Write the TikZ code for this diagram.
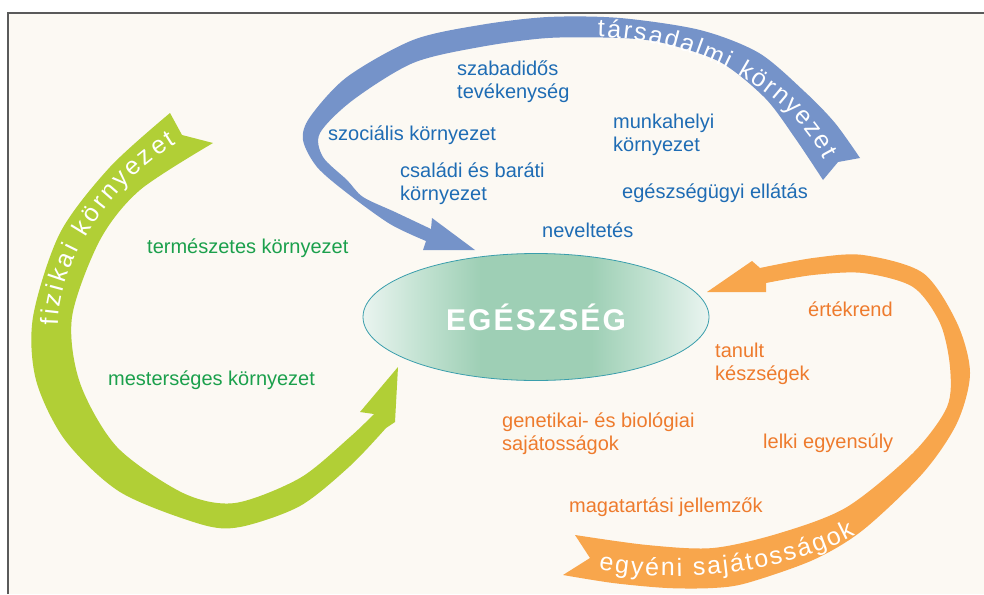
\documentclass[tikz,border=0pt]{standalone}
\usepackage{fontspec}
\setmainfont{Liberation Sans}
\newfontfamily\spacedfont[LetterSpace=7]{Liberation Sans}
\usetikzlibrary{shapes.geometric,decorations.text}
\definecolor{bgcream}{RGB}{252,249,243}
\definecolor{framegray}{RGB}{90,90,90}
\definecolor{socband}{RGB}{117,147,201}
\definecolor{soctext}{RGB}{30,108,180}
\definecolor{phyband}{RGB}{177,207,54}
\definecolor{phytext}{RGB}{27,160,76}
\definecolor{indband}{RGB}{248,166,76}
\definecolor{indtext}{RGB}{238,123,45}
\definecolor{healthin}{RGB}{158,207,181}
\definecolor{healthmid}{RGB}{196,227,211}
\definecolor{healthout}{RGB}{234,244,240}
\definecolor{healthrim}{RGB}{58,158,172}
\pgfdeclarehorizontalshading{healthshade}{100bp}{color(0bp)=(healthout); color(25bp)=(healthout);
  color(33bp)=(healthmid); color(42bp)=(healthin); color(58bp)=(healthin); color(67bp)=(healthmid);
  color(75bp)=(healthout); color(100bp)=(healthout)}

\begin{document}
\begin{tikzpicture}[x=1pt,y=-1pt,
  lbl/.style={anchor=west,inner sep=0pt,align=left,font=\fontsize{20}{23}\selectfont},
  soclbl/.style={lbl,text=soctext},
  phylbl/.style={lbl,text=phytext},
  indlbl/.style={lbl,text=indtext},
  bandtext/.style={decorate,font=\fontsize{25}{25}\selectfont,
    decoration={text along path,text align=fit to path,raise=-9pt,
    text={|\color{white}\fontsize{25}{25}\selectfont|#1}}}]
\useasboundingbox (0,0) rectangle (984,594);
\fill[white] (0,0) rectangle (984,594);
\fill[bgcream] (8,13) rectangle (984,594);
\draw[framegray,line width=1.5pt] (8,594) -- (8,13) -- (984,13);

% ends of the three bands
\coordinate (socnotch) at (838,162);
\coordinate (socbarbA) at (432,218);
\coordinate (soctip) at (475,250);
\coordinate (socbarbB) at (423,250);
\coordinate (phynotch) at (182,135);
\coordinate (phybarbA) at (360,412);
\coordinate (phytip) at (398,367);
\coordinate (phybarbB) at (395,422);
\coordinate (indnotch) at (590,558);
\coordinate (indbarbA) at (752,261);
\coordinate (indtip) at (707,292);
\coordinate (indbarbB) at (766,292);

% társadalmi
\fill[socband] (socnotch) -- plot[smooth] coordinates {(860,158) (835,123) (805,92) (759,53)
  (700,30) (620,18) (548,17) (480,25) (413,40) (347,77) (310,117) (303,140) (317,167)
  (347,193) (390,224) (426,241)}
  -- (socbarbB) -- (soctip) -- (socbarbA)
  -- plot[smooth] coordinates {(431,229) (395,212) (363,197) (347,180) (323,157) (320,133)
  (353,100) (413,63) (480,47) (548,38) (620,38) (663,43) (720,62) (765,98) (795,138) (823,180)}
  -- cycle;
% fizikai
\fill[phyband] (phynotch) -- plot[smooth] coordinates {(170,113) (110,167) (60,233) (33,317)
  (36,380) (65,440) (120,492) (200,524) (240,527) (300,506) (350,466) (386,428)}
  -- (phybarbB) -- (phytip) -- (phybarbA)
  -- plot[smooth] coordinates {(374,414) (350,437) (300,478) (235,503) (183,493) (117,447)
  (80,383) (72,317) (100,240) (140,190) (213,143)}
  -- cycle;
% egyéni
\fill[indband] (indbarbA) -- plot[smooth] coordinates {(760,268) (813,258) (863,255) (923,273)
  (957,323) (970,373) (957,423) (923,473) (863,530) (813,560) (747,583) (713,588) (667,588)
  (613,583) (563,575)}
  -- (indnotch)
  -- plot[smooth] coordinates {(575,535) (647,545) (713,548) (780,533) (847,507) (913,453)
  (947,407) (950,367) (940,323) (913,287) (863,273) (813,275) (766,283)}
  -- (indbarbB) -- (indtip) -- cycle;

\path[bandtext={társadalmi környezet}] (598,28) .. controls (690,30) and (790,75) .. (832,155);
\path[bandtext={fizikai környezet}] (49,325) .. controls (50,260) and (100,180) .. (172,136);
\path[bandtext={egyéni sajátosságok}] (600,561) .. controls (680,575) and (780,565) .. (852,527);

\node[ellipse,draw=healthrim,line width=0.8pt,shading=healthshade,minimum width=346pt,
  minimum height=127pt] (health) at (536,317)
  {\spacedfont\bfseries\fontsize{30}{30}\selectfont\color{white}EGÉSZSÉG};

\foreach \nm/\x/\y/\lbl in {freetime/457/82/{szabadidős\\tevékenység},
  social/328/135/{szociális környezet}, family/400/184/{családi és baráti\\környezet},
  work/613/135/{munkahelyi\\környezet}, care/622/193/{egészségügyi ellátás},
  upbring/542/230/{neveltetés}} {
   \node[soclbl] (\nm) at (\x,\y) {\lbl};
}
\foreach \nm/\x/\y/\lbl in {natural/147/248/{természetes környezet},
  artificial/108/380/{mesterséges környezet}} {
   \node[phylbl] (\nm) at (\x,\y) {\lbl};
}
\foreach \nm/\x/\y/\lbl in {values/808/309/{értékrend}, skills/715/364/{tanult\\készségek},
  genetic/502/434/{genetikai- és biológiai\\sajátosságok}, mental/763/443/{lelki egyensúly},
  behaviour/569/507/{magatartási jellemzők}} {
   \node[indlbl] (\nm) at (\x,\y) {\lbl};
}
\end{tikzpicture}
\end{document}
